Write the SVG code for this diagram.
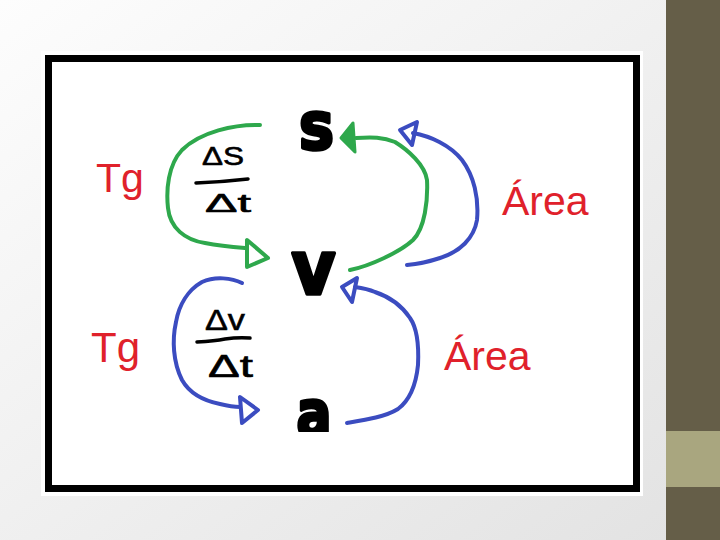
<svg xmlns="http://www.w3.org/2000/svg" width="720" height="540" viewBox="0 0 720 540">
<defs>
<linearGradient id="bg" x1="0" y1="0" x2="1" y2="1">
<stop offset="0" stop-color="#fdfdfd"/>
<stop offset="1" stop-color="#e2e2e2"/>
</linearGradient>
<clipPath id="clipA"><rect x="280" y="380" width="80" height="52"/></clipPath>
<style>
.g{fill:none;stroke:#2ea84c;stroke-width:4;stroke-linecap:round;stroke-linejoin:round}
.b{fill:none;stroke:#3b4cc0;stroke-width:4;stroke-linecap:round;stroke-linejoin:round}
.big{font-family:"DejaVu Sans",sans-serif;font-weight:bold;fill:#000;stroke:#000;stroke-width:3.5;stroke-linejoin:round;text-anchor:middle}
.lbl{font-family:"Liberation Sans",Arial,sans-serif;fill:#e0212b}
.frac{font-family:"Liberation Sans",Arial,sans-serif;fill:#000;stroke:#000;stroke-width:0.6}
.bar{fill:none;stroke:#000;stroke-width:3.5;stroke-linecap:round}
</style>
</defs>
<rect x="0" y="0" width="720" height="540" fill="url(#bg)"/>
<rect x="666" y="0" width="54" height="540" fill="#655e48"/>
<rect x="666" y="431" width="54" height="56" fill="#a9a67f"/>
<rect x="41" y="51" width="602" height="445" fill="#fff"/>
<rect x="48.5" y="58.5" width="588" height="430" fill="#fff" stroke="#000" stroke-width="7"/>

<g id="node-s"><text class="big" x="316.5" y="148.5" font-size="66" textLength="35" lengthAdjust="spacingAndGlyphs">s</text></g>
<g id="node-v"><text class="big" x="313.5" y="293.5" font-size="74" textLength="44" lengthAdjust="spacingAndGlyphs">v</text></g>
<g id="node-a" clip-path="url(#clipA)"><text class="big" x="314" y="436" font-size="64" textLength="35" lengthAdjust="spacingAndGlyphs">a</text></g>

<g id="label-tg-top"><text class="lbl" x="96" y="192" font-size="41">Tg</text></g>
<g id="label-tg-bottom"><text class="lbl" x="91" y="362" font-size="42">Tg</text></g>
<g id="label-area-top"><text class="lbl" x="502" y="215" font-size="41">Área</text></g>
<g id="label-area-bottom"><text class="lbl" x="444" y="370" font-size="41">Área</text></g>

<g id="frac-ds-dt">
<text class="frac" x="202" y="165" font-size="25" textLength="42" lengthAdjust="spacingAndGlyphs">ΔS</text>
<path class="bar" d="M196,183 Q222,182 248,179"/>
<text class="frac" x="205" y="212" font-size="26" textLength="46" lengthAdjust="spacingAndGlyphs">Δt</text>
</g>
<g id="frac-dv-dt">
<text class="frac" x="205" y="330" font-size="30" textLength="40" lengthAdjust="spacingAndGlyphs">Δv</text>
<path class="bar" d="M197,342 Q215,341 225,339 Q238,337 250,338"/>
<text class="frac" x="208" y="377" font-size="32" textLength="45" lengthAdjust="spacingAndGlyphs">Δt</text>
</g>

<g id="connectors">
<path class="g" d="M260,125 C235,124 200,132 182,150 C168,165 166,190 168,208 C170,228 185,240 205,243 C220,246 232,247 245,248"/>
<path class="g" d="M247,240 L247,267 L268,258 Z"/>
<path class="g" d="M350,270 C370,266 400,252 413,240 C425,228 428,200 427,180 C425,165 408,150 395,142 C383,137 372,137 356,138"/>
<path d="M353,123 L355,152 L341,138 Z" fill="#2ea84c" stroke="#2ea84c" stroke-width="3" stroke-linejoin="round"/>
<path class="b" d="M413,133 C430,136 450,145 462,160 C474,176 479,198 477,220 C474,238 460,252 440,258 C428,262 418,264 407,265"/>
<path class="b" d="M400,130 L417,122 L412,145 Z"/>
<path class="b" d="M242,283 C232,278 215,276 202,282 C188,290 179,305 176,322 C172,340 173,362 182,380 C190,394 205,401 220,404 C228,406 234,407 240,407"/>
<path class="b" d="M240,397 L242,423 L258,410 Z"/>
<path class="b" d="M347,423 C365,420 385,417 398,409 C410,400 416,385 418,365 C419,345 417,328 410,318 C402,306 390,297 375,292 C368,289 362,288 355,287"/>
<path class="b" d="M342,287 L357,278 L352,302 Z"/>
</g>
</svg>
